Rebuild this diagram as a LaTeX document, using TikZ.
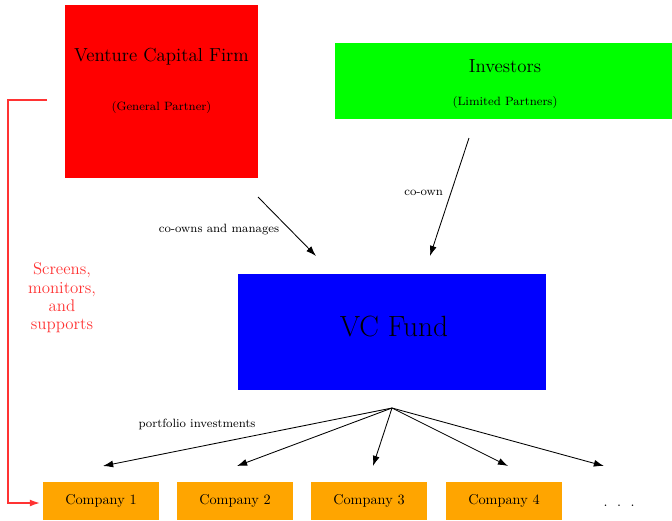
\documentclass[tikz,border=0pt]{standalone}
\usepackage{tikz}
\usetikzlibrary{arrows.meta,positioning}
\definecolor{compfill}{RGB}{255,165,0}
\begin{document}
\begin{tikzpicture}[
    x=0.7pt,y=-0.7pt,
    box/.style={inner sep=0pt, outer sep=0pt},
    co/.style={fill=compfill, minimum width=81.2pt, minimum height=26.6pt,
               inner sep=0pt, outer sep=0pt},
    big/.style={font=\fontsize{13.2}{15}\selectfont},
    sub/.style={font=\fontsize{8.4}{10}\selectfont},
    a/.style={-{Latex[length=2.5mm,width=1.7mm]}, line width=0.6pt},
    ra/.style={-{Latex[length=2.5mm,width=1.7mm]}, line width=1pt, red!80}
]
\useasboundingbox (0,0) rectangle (672,520);

% Top row: general and limited partners
\node[box, fill=red, minimum width=135.1pt, minimum height=121.1pt] (vcf) at (161.5,91.5) {};
\node[big] (vcfname) at (161.5,57) {Venture Capital Firm};
\node[sub] (vcfrole) at (161.5,107) {(General Partner)};

\node[box, fill=green, minimum width=235.9pt, minimum height=53.2pt] (inv) at (503.5,81) {};
\node[big] (invname) at (505,66) {Investors};
\node[sub] (invrole) at (505,102) {(Limited Partners)};

% Middle: the fund
\node[box, fill=blue, minimum width=215.6pt, minimum height=81.2pt] (fund) at (392,332) {};
\node[font=\fontsize{20.5}{24}\selectfont] (fundname) at (394,326) {VC Fund};

% Bottom row: portfolio companies
\node[co] (c1) at (101,501) {Company 1};
\node[co] (c2) at (235,501) {Company 2};
\node[co] (c3) at (369,501) {Company 3};
\node[co] (c4) at (504,501) {Company 4};
\node[co, fill=none] (dots) at (619,506) {.\ \ .\ \ .};

% Ownership arrows
\draw[a] ([yshift=-13.3pt]vcf.south east) -- ([xshift=-53.2pt,yshift=12.6pt]fund.north);
\draw[a] ([xshift=-24.15pt,yshift=-13.3pt]inv.south) -- ([xshift=26.6pt,yshift=12.6pt]fund.north);
\node[sub] (ownlbl) at (219,230) {co-owns and manages};
\node[sub, anchor=east] (coownlbl) at (448,193) {co-own};

% Investments fan
\coordinate (fan) at ([yshift=-12.6pt]fund.south);
\foreach \c/\dx in {c1/1.4,c2/1.4,c3/2.8,c4/2.8} {
  \draw[a] (fan) -- ([xshift=\dx pt,yshift=11.2pt]\c.north);
}
\draw[a] (fan) -- ([xshift=-10.5pt,yshift=14.7pt]dots.north);
\node[sub] (invlbl) at (197,424) {portfolio investments};

% Support loop
\draw[ra] ([xshift=-12.6pt,yshift=-5.95pt]vcf.west) -- ++(-39,0) |- ([xshift=-2.1pt,yshift=-1.4pt]c1.west);
\node[align=center, text=red!80, font=\fontsize{11.8}{12.9}\selectfont] (suplbl) at (62,298)
  {Screens,\\monitors,\\and\\supports};
\end{tikzpicture}
\end{document}
